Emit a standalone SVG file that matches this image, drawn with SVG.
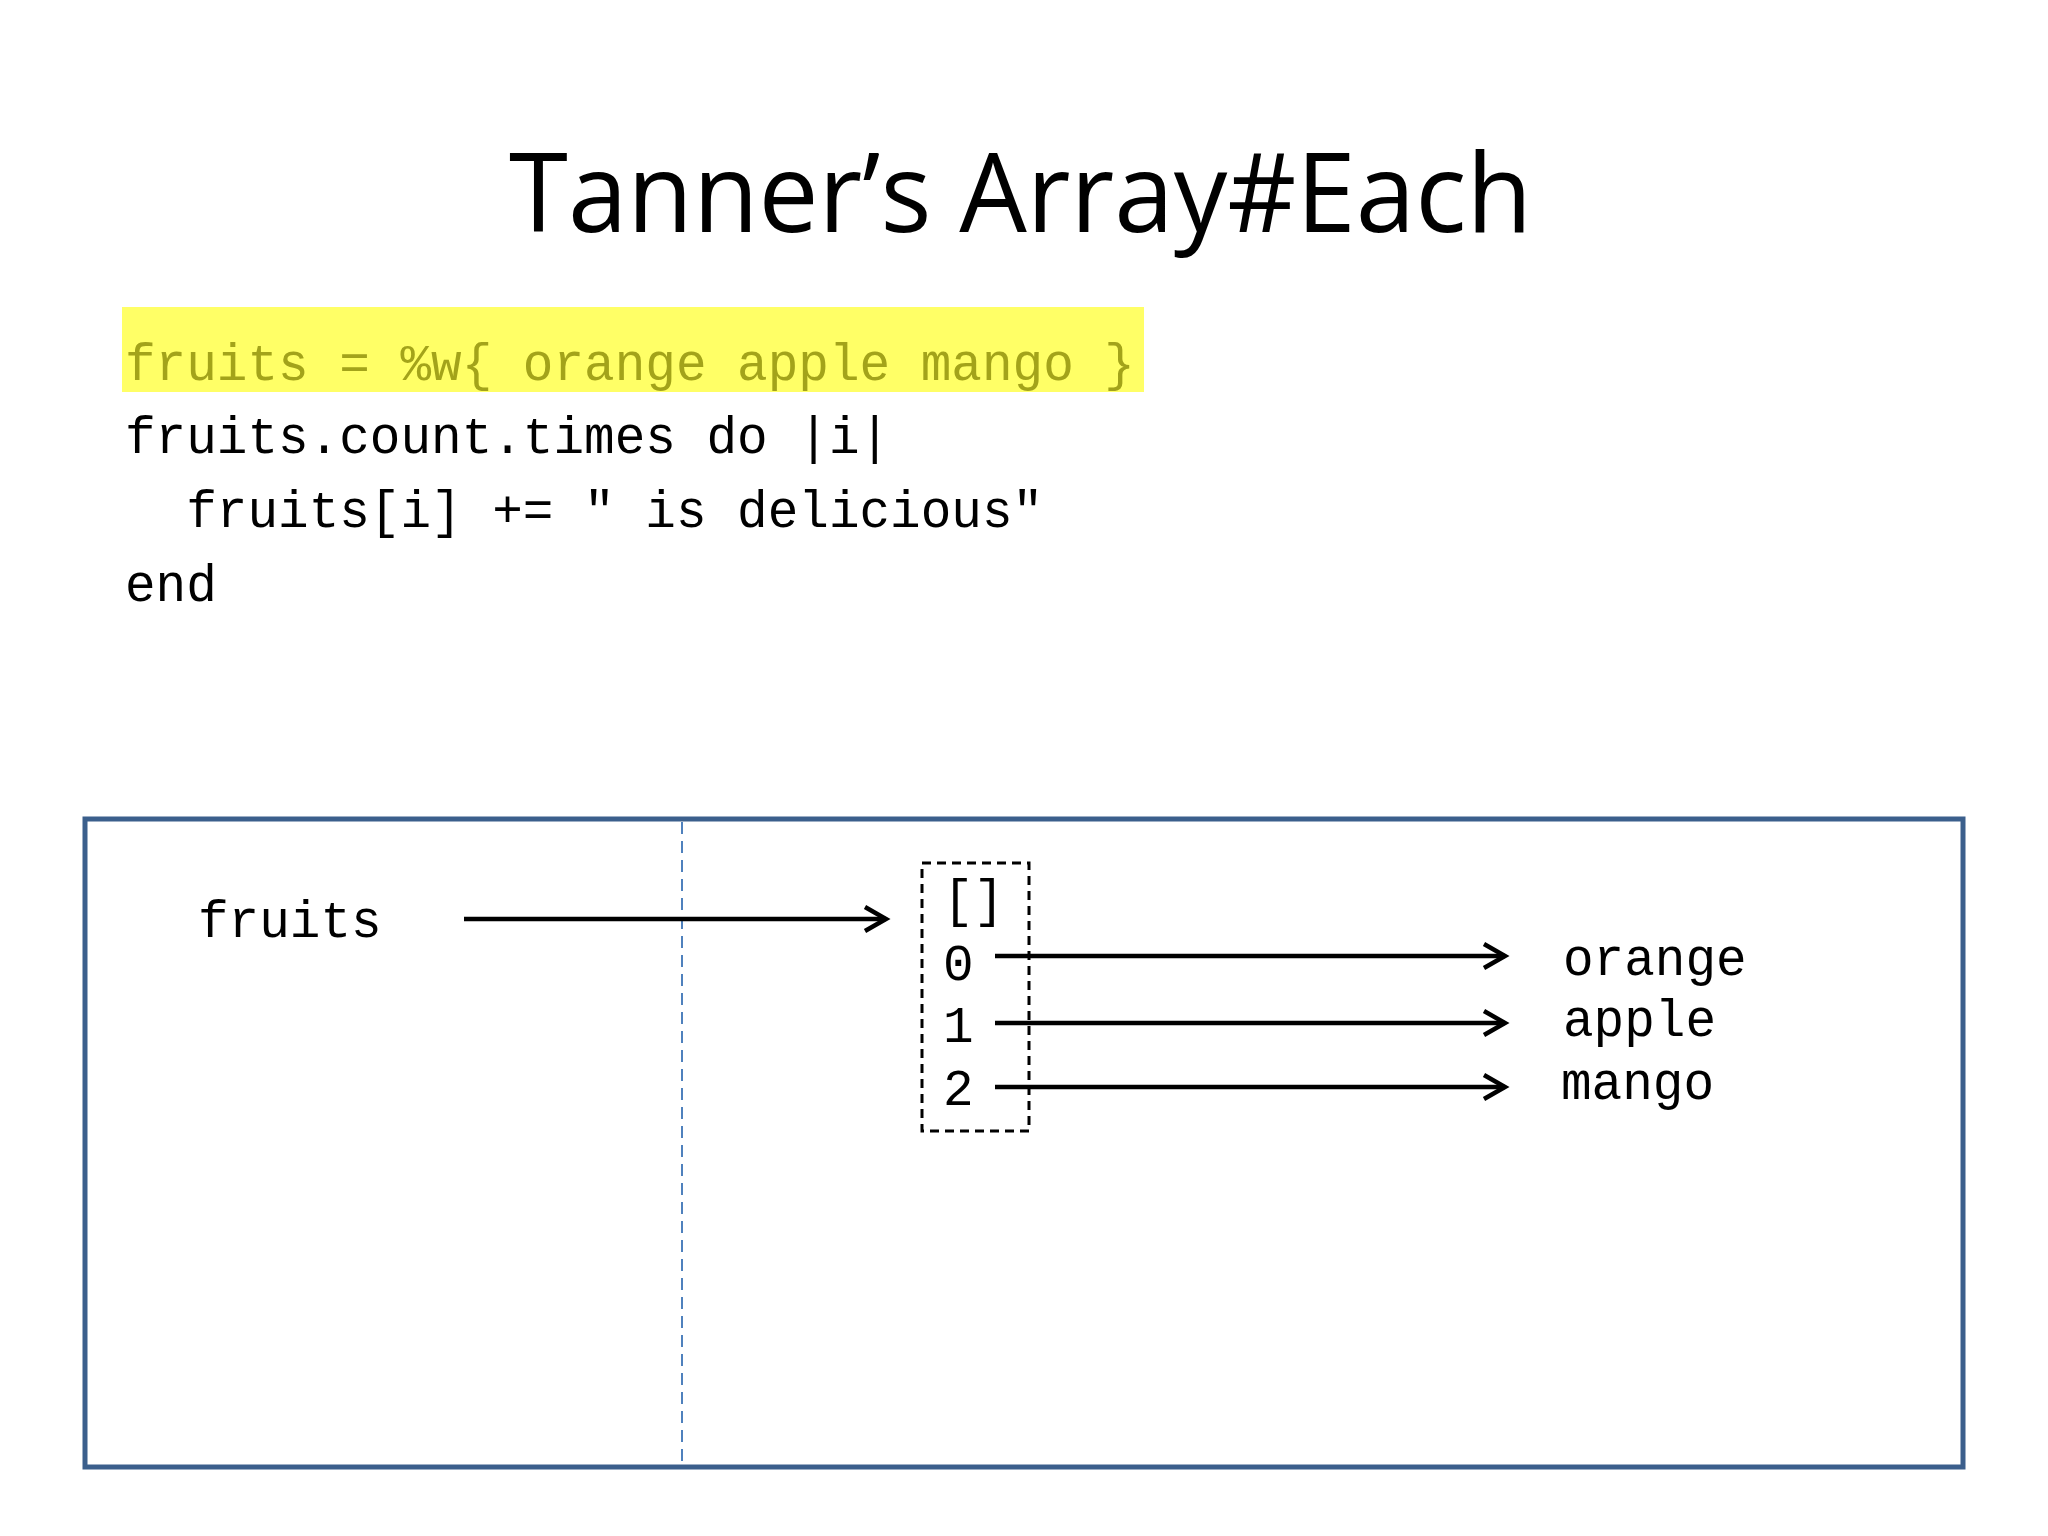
<svg xmlns="http://www.w3.org/2000/svg" width="2048" height="1536" viewBox="0 0 2048 1536">
  <style>
    .title { font-family: "Open Sans", "Noto Sans", "Liberation Sans", sans-serif; font-size: 110px; fill: #000; }
    .code { font-family: "Liberation Mono", "DejaVu Sans Mono", monospace; font-size: 51px; fill: #000; }
    .hl { fill: #a3a31a; }
    .conn { stroke: #000; stroke-width: 4.5; fill: none; }
  </style>
  <defs>
    <marker id="arrow" markerUnits="userSpaceOnUse" markerWidth="32" markerHeight="32" refX="24" refY="14" orient="auto">
      <path d="M3,2 L24,14 L3,26" fill="none" stroke="#000" stroke-width="4.5" stroke-linejoin="miter"/>
    </marker>
  </defs>
  <rect width="2048" height="1536" fill="#ffffff"/>

  <g id="title">
    <text class="title" x="509" y="232" textLength="1023" lengthAdjust="spacingAndGlyphs">Tanner’s Array#Each</text>
  </g>

  <g id="code">
    <rect x="122" y="307" width="1022" height="85" fill="#ffff66"/>
    <text class="code hl" x="125" y="380" xml:space="preserve">fruits = %w{ orange apple mango }</text>
    <text class="code" x="125" y="453" xml:space="preserve">fruits.count.times do |i|</text>
    <text class="code" x="125" y="527" xml:space="preserve">  fruits[i] += " is delicious"</text>
    <text class="code" x="125" y="601" xml:space="preserve">end</text>
  </g>

  <g id="frame">
    <rect x="85" y="819" width="1878" height="648" fill="none" stroke="#3b5f8c" stroke-width="5"/>
    <line x1="682" y1="822" x2="682" y2="1464" stroke="#4f81bd" stroke-width="2" stroke-dasharray="12,7"/>
  </g>

  <g id="node-fruits">
    <text class="code" x="198" y="937">fruits</text>
  </g>

  <g id="node-array">
    <rect x="922" y="863" width="107" height="268" fill="none" stroke="#000" stroke-width="3" stroke-dasharray="9,6"/>
    <text class="code" x="943" y="916">[]</text>
    <text class="code" x="943" y="980">0</text>
    <text class="code" x="943" y="1042">1</text>
    <text class="code" x="943" y="1105">2</text>
  </g>

  <g id="node-orange"><text class="code" x="1563" y="975">orange</text></g>
  <g id="node-apple"><text class="code" x="1563" y="1036">apple</text></g>
  <g id="node-mango"><text class="code" x="1561" y="1099">mango</text></g>

  <g id="connectors">
    <line class="conn" x1="464" y1="919" x2="886" y2="919" marker-end="url(#arrow)"/>
    <line class="conn" x1="995" y1="956" x2="1505" y2="956" marker-end="url(#arrow)"/>
    <line class="conn" x1="995" y1="1023" x2="1505" y2="1023" marker-end="url(#arrow)"/>
    <line class="conn" x1="995" y1="1087" x2="1505" y2="1087" marker-end="url(#arrow)"/>
  </g>
</svg>
